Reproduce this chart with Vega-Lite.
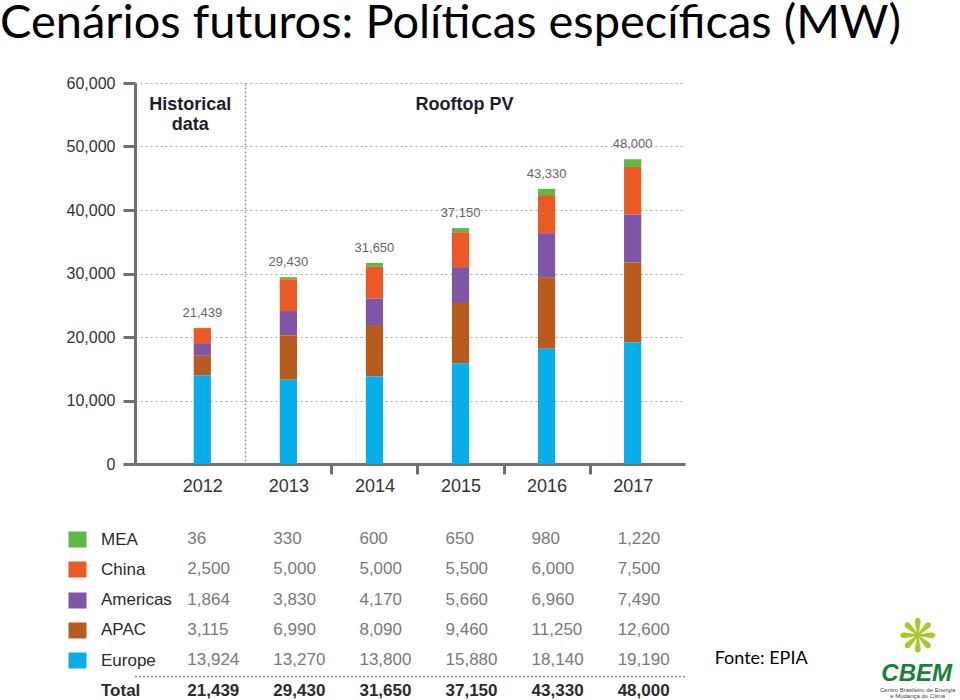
{
  "$schema": "https://vega.github.io/schema/vega-lite/v6.json",
  "background": "white",
  "padding": {"left": 0, "top": 0, "right": 0, "bottom": 0},
  "title": {"text": "Cenários futuros: Políticas específicas (MW)", "font": "Lato", "fontSize": 47, "fontWeight": "normal", "color": "#000000", "anchor": "start", "frame": "group", "dx": -135, "offset": 27},
  "config": {"view": {"stroke": null}},
  "datasets": {
    "pv": [
      {"year": "2012", "region": "MEA", "value": 36},
      {"year": "2012", "region": "China", "value": 2500},
      {"year": "2012", "region": "Americas", "value": 1864},
      {"year": "2012", "region": "APAC", "value": 3115},
      {"year": "2012", "region": "Europe", "value": 13924},
      {"year": "2012", "region": "Total", "value": 21439},
      {"year": "2013", "region": "MEA", "value": 330},
      {"year": "2013", "region": "China", "value": 5000},
      {"year": "2013", "region": "Americas", "value": 3830},
      {"year": "2013", "region": "APAC", "value": 6990},
      {"year": "2013", "region": "Europe", "value": 13270},
      {"year": "2013", "region": "Total", "value": 29430},
      {"year": "2014", "region": "MEA", "value": 600},
      {"year": "2014", "region": "China", "value": 5000},
      {"year": "2014", "region": "Americas", "value": 4170},
      {"year": "2014", "region": "APAC", "value": 8090},
      {"year": "2014", "region": "Europe", "value": 13800},
      {"year": "2014", "region": "Total", "value": 31650},
      {"year": "2015", "region": "MEA", "value": 650},
      {"year": "2015", "region": "China", "value": 5500},
      {"year": "2015", "region": "Americas", "value": 5660},
      {"year": "2015", "region": "APAC", "value": 9460},
      {"year": "2015", "region": "Europe", "value": 15880},
      {"year": "2015", "region": "Total", "value": 37150},
      {"year": "2016", "region": "MEA", "value": 980},
      {"year": "2016", "region": "China", "value": 6000},
      {"year": "2016", "region": "Americas", "value": 6960},
      {"year": "2016", "region": "APAC", "value": 11250},
      {"year": "2016", "region": "Europe", "value": 18140},
      {"year": "2016", "region": "Total", "value": 43330},
      {"year": "2017", "region": "MEA", "value": 1220},
      {"year": "2017", "region": "China", "value": 7500},
      {"year": "2017", "region": "Americas", "value": 7490},
      {"year": "2017", "region": "APAC", "value": 12600},
      {"year": "2017", "region": "Europe", "value": 19190},
      {"year": "2017", "region": "Total", "value": 48000}
    ]
  },
  "bounds": "flush",
  "spacing": 75,
  "resolve": {"scale": {"x": "independent", "y": "independent", "color": "independent"}},
  "vconcat": [
    {
      "width": 550,
      "height": 381,
      "data": {"name": "pv"},
      "encoding": {
        "x": {
          "field": "year", "type": "nominal",
          "scale": {"type": "band", "paddingInner": 0.8, "paddingOuter": 0.595, "align": 0.573},
          "axis": {
            "title": null, "labelAngle": 0, "labelFont": "Liberation Sans", "labelFontSize": 18, "labelColor": "#333333", "labelPadding": 3,
            "tickSize": 10, "tickWidth": 3, "tickColor": "#707070", "tickOffset": 43.03, "labelOffset": -43.03,
            "tickOpacity": {"condition": {"test": "indexof(['2013','2014','2015','2016'], datum.value) >= 0", "value": 1}, "value": 0},
            "domainColor": "#707070", "domainWidth": 3,
            "grid": true, "gridDash": [2, 2], "gridColor": "#9a9a9a", "gridWidth": 1.5,
            "gridOpacity": {"condition": {"test": "datum.value === '2012'", "value": 1}, "value": 0}
          }
        }
      },
      "layer": [
        {
          "transform": [
            {"filter": "datum.region !== 'Total'"},
            {"calculate": "indexof(['Europe','APAC','Americas','China','MEA'], datum.region)", "as": "stackOrder"}
          ],
          "mark": {"type": "bar"},
          "encoding": {
            "y": {
              "field": "value", "type": "quantitative", "stack": "zero",
              "scale": {"domain": [0, 60000]},
              "axis": {
                "title": null, "values": [0, 10000, 20000, 30000, 40000, 50000, 60000], "format": ",d",
                "labelFont": "Liberation Sans", "labelFontSize": 16, "labelColor": "#333333", "labelPadding": 8,
                "tickSize": 12, "tickWidth": 3, "tickColor": "#707070",
                "domainColor": "#707070", "domainWidth": 3,
                "grid": true, "gridDash": [2, 3], "gridColor": "#a8a8a8", "gridWidth": 1.2
              }
            },
            "color": {
              "field": "region", "type": "nominal",
              "scale": {"domain": ["Europe", "APAC", "Americas", "China", "MEA"], "range": ["#08aeea", "#b75b1e", "#7f55a5", "#ea5a25", "#5cb946"]},
              "legend": null
            },
            "order": {"field": "stackOrder", "type": "quantitative", "sort": "ascending"}
          }
        },
        {
          "transform": [{"filter": "datum.region === 'Total'"}],
          "mark": {"type": "text", "font": "Liberation Sans", "fontSize": 13, "color": "#666666", "baseline": "alphabetic", "dy": -11},
          "encoding": {
            "y": {"field": "value", "type": "quantitative"},
            "text": {"field": "value", "type": "quantitative", "format": ","}
          }
        },
        {
          "data": {"values": [{"label": ["Historical", "data"]}]},
          "mark": {"type": "text", "font": "Liberation Sans", "fontSize": 18, "fontWeight": "bold", "color": "#1d1d2b", "baseline": "alphabetic", "lineHeight": 20, "dx": -12},
          "encoding": {
            "x": {"datum": "2012"},
            "y": {"datum": 55800},
            "text": {"field": "label"}
          }
        },
        {
          "data": {"values": [{"label": "Rooftop PV"}]},
          "mark": {"type": "text", "font": "Liberation Sans", "fontSize": 18, "fontWeight": "bold", "color": "#1d1d2b", "baseline": "alphabetic", "dx": 4},
          "encoding": {
            "x": {"datum": "2015"},
            "y": {"datum": 55800},
            "text": {"field": "label"}
          }
        }
      ]
    },
    {
      "width": 550,
      "height": 151.5,
      "data": {"name": "pv"},
      "encoding": {
        "y": {
          "field": "region", "type": "nominal",
          "scale": {"type": "point", "padding": 0, "domain": ["MEA", "China", "Americas", "APAC", "Europe", "Total"]},
          "axis": {
            "title": null, "orient": "left", "offset": 49, "domain": false, "grid": false,
            "ticks": true, "tickSize": 18, "tickWidth": 16, "tickCap": "butt",
            "tickColor": {"condition": [
              {"test": "datum.value === 'MEA'", "value": "#5cb946"},
              {"test": "datum.value === 'China'", "value": "#ea5a25"},
              {"test": "datum.value === 'Americas'", "value": "#7f55a5"},
              {"test": "datum.value === 'APAC'", "value": "#b75b1e"},
              {"test": "datum.value === 'Europe'", "value": "#08aeea"}
            ], "value": "transparent"},
            "labelAlign": "left", "labelPadding": -32.5, "labelBaseline": "middle",
            "labelFont": "Liberation Sans", "labelFontSize": 17, "labelColor": "#2b2b2b",
            "labelFontWeight": {"condition": {"test": "datum.value === 'Total'", "value": "bold"}, "value": "normal"}
          }
        }
      },
      "layer": [
        {
          "data": {"values": [{"sep": "Total"}]},
          "mark": {"type": "rule", "strokeDash": [2, 2], "color": "#8c8c8c", "strokeWidth": 1.5, "yOffset": -14},
          "encoding": {"y": {"field": "sep", "type": "nominal"}}
        },
        {
          "transform": [{"filter": "datum.region !== 'Total'"}],
          "mark": {"type": "text", "font": "Liberation Sans", "fontSize": 17, "color": "#7a7a7a", "align": "left", "baseline": "middle", "dx": -15},
          "encoding": {
            "x": {
              "field": "year", "type": "nominal",
              "scale": {"type": "band", "paddingInner": 0.8, "paddingOuter": 0.595, "align": 0.573},
              "axis": null
            },
            "text": {"field": "value", "type": "quantitative", "format": ","}
          }
        },
        {
          "transform": [{"filter": "datum.region === 'Total'"}],
          "mark": {"type": "text", "font": "Liberation Sans", "fontSize": 17, "fontWeight": "bold", "color": "#2b2b2b", "align": "left", "baseline": "middle", "dx": -15},
          "encoding": {
            "x": {"field": "year", "type": "nominal", "axis": null},
            "text": {"field": "value", "type": "quantitative", "format": ","}
          }
        },
        {
          "data": {"values": [{"note": "Fonte: EPIA"}]},
          "mark": {"type": "text", "font": "Lato", "fontSize": 18, "color": "#000000", "align": "left", "baseline": "alphabetic", "dx": 82, "dy": 4},
          "encoding": {"x": {"datum": "2017"}, "y": {"datum": "Europe"}, "text": {"field": "note"}}
        },
        {
          "data": {"values": [{"logo": "❋"}]},
          "mark": {"type": "text", "font": "DejaVu Sans", "fontSize": 46, "color": "#a6c82a", "align": "center", "baseline": "middle", "dx": 285, "dy": 8},
          "encoding": {"x": {"datum": "2017"}, "y": {"datum": "APAC"}, "text": {"field": "logo"}}
        },
        {
          "data": {"values": [{"logo": "CBEM"}]},
          "mark": {"type": "text", "font": "Liberation Sans", "fontSize": 24, "fontWeight": "bold", "fontStyle": "italic", "color": "#17813a", "align": "center", "baseline": "alphabetic", "dx": 284, "dy": -10},
          "encoding": {"x": {"datum": "2017"}, "y": {"datum": "Total"}, "text": {"field": "logo"}}
        },
        {
          "data": {"values": [{"logo": ["Centro Brasileiro de Energia", "e Mudança do Clima"]}]},
          "mark": {"type": "text", "font": "Liberation Sans", "fontSize": 6, "color": "#444444", "align": "center", "baseline": "alphabetic", "lineHeight": 6.5, "dx": 285, "dy": 1},
          "encoding": {"x": {"datum": "2017"}, "y": {"datum": "Total"}, "text": {"field": "logo"}}
        }
      ]
    }
  ]
}
